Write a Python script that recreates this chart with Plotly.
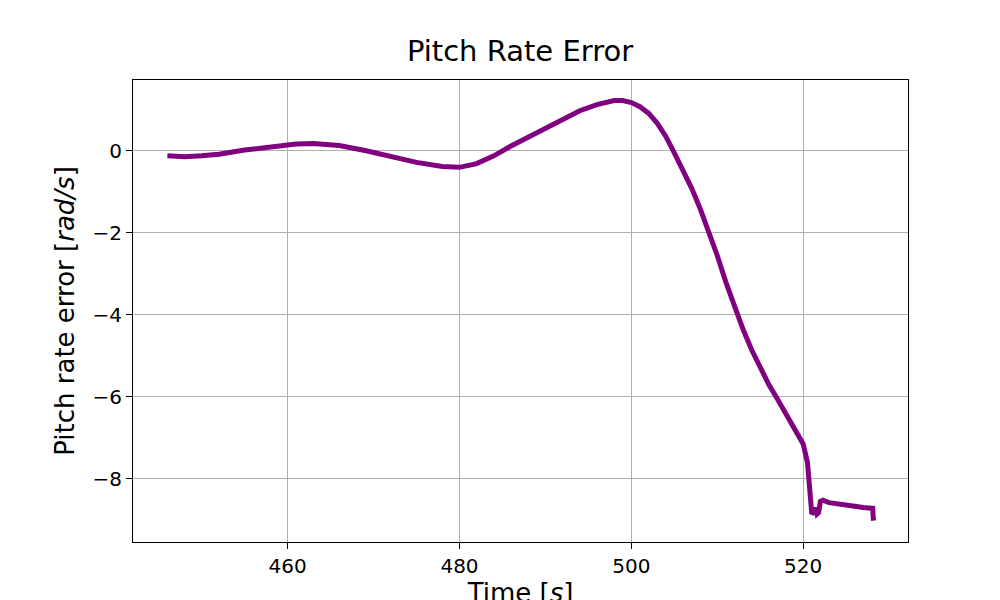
import plotly.graph_objects as go

time = [446.0, 448, 450, 452, 455, 458, 461, 463, 466, 469, 472, 475, 478, 480, 482, 484, 486,
        488, 490, 492, 494, 496, 497, 498, 499, 500, 501, 502, 503, 504, 505, 506, 507, 508, 509,
        510, 511, 512, 513, 514, 515, 516, 517, 518, 519, 520, 520.5, 520.8, 521.0, 521.2,
        521.4, 521.6, 521.8, 522.0, 522.3, 523, 524, 525, 526, 527, 528.1, 528.15, 528.2]
error = [-0.12, -0.14, -0.12, -0.08, 0.02, 0.11, 0.17, 0.18, 0.13, 0.01, -0.14, -0.28, -0.38,
         -0.40, -0.31, -0.12, 0.12, 0.34, 0.56, 0.78, 0.98, 1.13, 1.19, 1.23, 1.23, 1.18, 1.08,
         0.92, 0.68, 0.36, -0.05, -0.45, -0.9, -1.4, -1.95, -2.55, -3.2, -3.8, -4.35, -4.85,
         -5.3, -5.7, -6.05, -6.4, -6.75, -7.15, -7.6, -8.4, -8.85, -8.82, -8.7, -8.86, -8.82,
         -8.55, -8.52, -8.58, -8.62, -8.65, -8.67, -8.70, -8.72, -8.95, -9.02]

fig = go.Figure(go.Scatter(x=time, y=error, mode="lines", line=dict(color="purple", width=5)))

axis = dict(showgrid=True, gridcolor="#b0b0b0", gridwidth=1, showline=True, linecolor="black",
            mirror=True, ticks="outside", ticklen=6, tickcolor="black", zeroline=False,
            automargin=False, tickfont=dict(size=20, color="black"))

fig.update_layout(
    title=dict(text="Pitch Rate Error", x=0.512, xanchor="center", y=0.945, font=dict(size=29, color="black")),
    width=1000, height=600,
    plot_bgcolor="white", paper_bgcolor="white",
    font=dict(family="DejaVu Sans", color="black"),
    margin=dict(l=125, r=100, t=72, b=66),
    xaxis=dict(axis, range=[442.0, 532.2], tickvals=[460, 480, 500, 520],
               title=dict(text="Time [<i>s</i>]", font=dict(size=26), standoff=8)),
    yaxis=dict(axis, range=[-9.54, 1.73], tickvals=[0, -2, -4, -6, -8],
               ticktext=["0", "\u22122", "\u22124", "\u22126", "\u22128"],
               title=dict(text="Pitch rate error [<i>rad/s</i>]", font=dict(size=26), standoff=10)),
    showlegend=False,
)

fig.write_html("out.html")
